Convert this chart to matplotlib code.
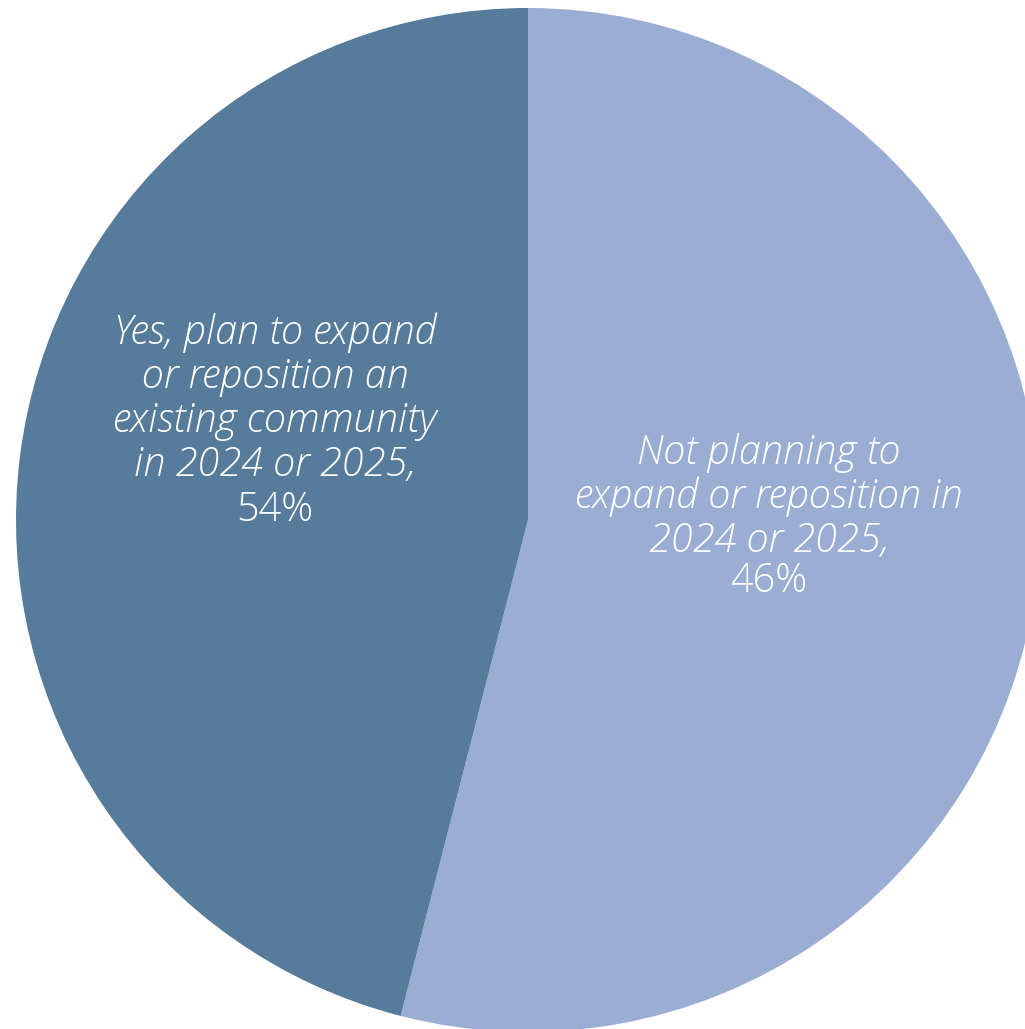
import matplotlib
matplotlib.use("Agg")
import matplotlib.pyplot as plt

# slice sizes (clockwise from 12 o'clock)
shares = [54, 46]
slice_colors = ["#9AAED3", "#577B9B"]

# label text as printed on the chart
label_text = [
    "Not planning to\nexpand or reposition in\n2024 or 2025,",
    "Yes, plan to expand\nor reposition an\nexisting community\nin 2024 or 2025,",
]
label_pct = ["46%", "54%"]

W, H = 1025, 1029
fig = plt.figure(figsize=(W / 100, H / 100), dpi=100)
cx, cy, r = 528, 520, 512
ax = fig.add_axes([(cx - r) / W, (H - cy - r) / H, 2 * r / W, 2 * r / H])
ax.pie(shares, colors=slice_colors, startangle=90, counterclock=False,
       radius=1, wedgeprops=dict(linewidth=0))
ax.set_xlim(-1, 1)
ax.set_ylim(-1, 1)
ax.set_aspect("equal")
ax.axis("off")

# label positions (block centre, pct centre) in pie units
text_pos = [(0.471, 0.045), (-0.494, 0.236)]
pct_pos = [(0.471, -0.121), (-0.494, 0.0195)]

for i in range(len(shares)):
    ax.text(text_pos[i][0], text_pos[i][1], label_text[i], ha="center", va="center",
            color="white", fontsize=28.5, family="Open Sans", style="italic",
            weight="light", linespacing=1.13)
    ax.text(pct_pos[i][0], pct_pos[i][1], label_pct[i], ha="center", va="center",
            color="white", fontsize=28.5, family="Open Sans", weight="light")

fig.savefig("out.png", dpi=100)
